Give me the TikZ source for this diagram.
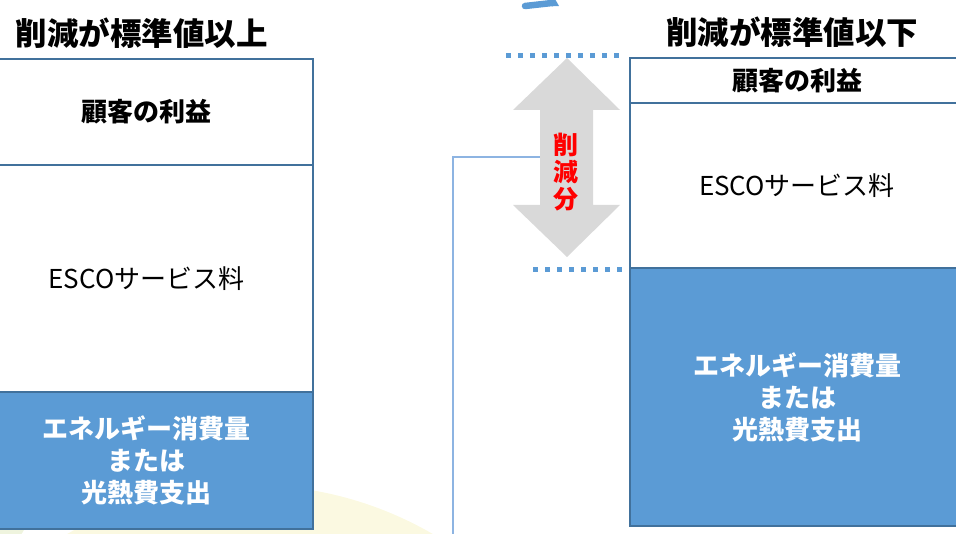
\documentclass[tikz,border=0pt]{standalone}
\usepackage{fontspec}
\setmainfont{Noto Sans CJK JP}
\definecolor{boxblue}{HTML}{5B9BD5}
\definecolor{edgeblue}{HTML}{41719C}
\definecolor{thinblue}{HTML}{8DB4E2}
\definecolor{arrowgray}{HTML}{D9D9D9}
\definecolor{faintyellow}{HTML}{FBF9E1}
\definecolor{faintgreen}{HTML}{EFF4DE}
\tikzset{
  colbox/.style={draw=edgeblue, line width=2pt, rectangle, inner sep=0pt, outer sep=0pt, align=center},
  whitebox/.style={colbox, fill=white, text=black},
  bluebox/.style={colbox, fill=boxblue, text=white, font=\fontsize{26}{32}\selectfont\bfseries},
  titletext/.style={font=\fontsize{31.5}{34}\selectfont\bfseries, inner sep=0pt},
  dotline/.style={draw=boxblue, line width=5pt, dash pattern=on 5pt off 7pt},
}
\begin{document}
\begin{tikzpicture}[x=1pt, y=-1pt]
\useasboundingbox (0,0) rectangle (956,534);
\clip (0,0) rectangle (956,534);
% faint background shapes
\fill[faintyellow] (250,850) circle (365);
\fill[faintgreen] (-80,470) circle (120);
% top blue curved arrow fragment
\draw[boxblue, line width=6.5pt, line cap=round] (525,6) -- (552,3);
\fill[boxblue] (552,-0.3) -- (555,-1) -- (559,6) -- (552,6.3) -- cycle;
% titles
\node[titletext] (t1) at (142,33) {削減が標準値以上};
\node[titletext] (t2) at (792,32) {削減が標準値以下};
% left column
\node[whitebox, minimum width=333pt, minimum height=227pt, font=\fontsize{26}{28}\selectfont] (l2) at (146.5,278.5) {ESCOサービス料};
\node[whitebox, minimum width=333pt, minimum height=106pt, font=\fontsize{26}{28}\selectfont\bfseries] (l1) at (146.5,112) {顧客の利益};
\node[bluebox, minimum width=333pt, minimum height=137pt] (l3) at (146.5,460.5) {エネルギー消費量\\または\\光熱費支出};
% thin frame behind the arrow
\coordinate (f1) at (453,540);
\coordinate (f2) at (453,157);
\coordinate (f3) at (565,157);
\draw[thinblue, line width=1.5pt] (f1) -- (f2) -- (f3);
% dotted guide lines
\coordinate (d1) at (506,56);
\coordinate (d2) at (622,56);
\coordinate (d3) at (533,270);
\coordinate (d4) at (634,270);
\draw[dotline] (d1) -- (d2);
\draw[dotline] (d3) -- (d4);
% gray double arrow
\fill[arrowgray] (567,58) -- (620,110) -- (593,110) -- (593,205) -- (620,205) -- (567,257)
  -- (513,205) -- (540,205) -- (540,110) -- (513,110) -- cycle;
\node[text=red, font=\fontsize{25}{27}\selectfont\bfseries, align=center, inner sep=0pt] (cut) at (566,172) {削\\減\\分};
% right column
\node[whitebox, minimum width=334pt, minimum height=165pt, font=\fontsize{26}{28}\selectfont] (r2) at (797,186) {ESCOサービス料};
\node[whitebox, minimum width=334pt, minimum height=45pt, font=\fontsize{26}{28}\selectfont\bfseries] (r1) at (797,80.5) {顧客の利益};
\node[bluebox, minimum width=334pt, minimum height=258pt] (r3) at (797,397) {エネルギー消費量\\または\\光熱費支出};
\end{tikzpicture}
\end{document}
